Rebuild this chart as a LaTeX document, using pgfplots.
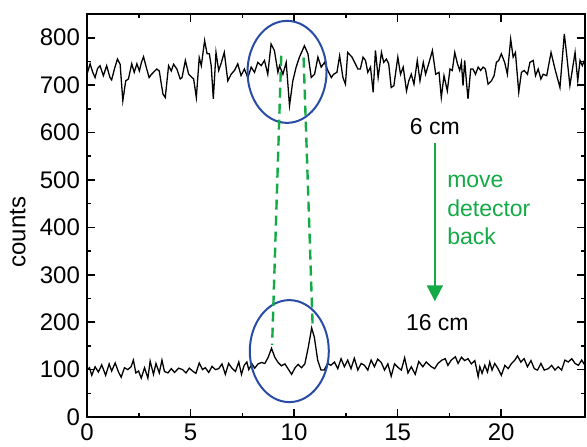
\documentclass[border=0pt]{standalone}
\usepackage{fontspec}
\setmainfont{Liberation Sans}
\usepackage{pgfplots}
\pgfplotsset{compat=1.18}
\usetikzlibrary{arrows.meta}
\definecolor{annogreen}{RGB}{20,170,70}
\definecolor{ellblue}{RGB}{40,75,165}

\begin{document}
\begin{tikzpicture}
\path[use as bounding box] (-43.5pt,-14.5pt) rectangle (250pt,208.5pt);
\begin{axis}[
  at={(0,0)}, anchor=south west,
  scale only axis, width=249pt, height=201.5pt,
  xmin=0, xmax=24.05, ymin=0, ymax=850,
  xtick={0,5,...,20}, ytick={0,100,...,800},
  minor x tick num=1, minor y tick num=1,
  tick align=inside, major tick length=4pt, minor tick length=2pt,
  axis line style={line width=1pt},
  tick style={black, line width=0.8pt},
  /pgf/number format/assume math mode=true,
  tick label style={font=\fontsize{12}{14}\selectfont},
  ylabel={counts},
  ylabel style={at={(axis description cs:-0.139,0.459)}, anchor=center, font=\fontsize{12}{14}\selectfont},
]
% 6 cm
\addplot[black, line width=0.65pt] coordinates {
(0.00,723)(0.15,745)(0.27,728)(0.39,716)(0.51,735)(0.63,741)(0.79,720)(0.95,741)
(1.11,716)(1.19,711)(1.33,735)(1.47,755)(1.60,744)(1.73,667)(1.87,709)(2.00,713)
(2.16,745)(2.28,727)(2.41,745)(2.53,730)(2.63,748)(2.73,760)(2.86,738)(3.00,716)
(3.10,722)(3.21,727)(3.37,734)(3.49,730)(3.58,705)(3.67,681)(3.78,674)(3.94,741)
(4.07,730)(4.18,744)(4.34,734)(4.50,713)(4.59,716)(4.75,752)(4.91,723)(5.07,716)
(5.15,713)(5.28,674)(5.42,758)(5.52,741)(5.68,794)(5.80,766)(5.91,766)(6.00,740)
(6.10,671)(6.23,769)(6.36,731)(6.47,745)(6.63,769)(6.80,709)(6.96,723)(7.12,731)
(7.28,745)(7.44,720)(7.60,734)(7.77,716)(7.93,738)(8.09,727)(8.25,748)(8.41,741)
(8.57,752)(8.73,723)(8.89,787)(9.05,773)(9.22,727)(9.30,741)(9.46,723)(9.62,748)
(9.78,657)(9.94,709)(10.10,738)(10.26,759)(10.50,783)(10.67,766)(10.83,716)(10.99,723)
(11.15,759)(11.31,738)(11.47,748)(11.63,731)(11.80,716)(11.91,723)(12.07,727)(12.20,762)
(12.36,716)(12.48,702)(12.59,769)(12.80,759)(12.96,745)(13.08,734)(13.20,734)(13.33,759)
(13.45,752)(13.56,727)(13.69,738)(13.82,685)(13.93,773)(14.06,716)(14.22,769)(14.33,748)
(14.46,755)(14.57,745)(14.69,695)(14.82,699)(15.01,759)(15.14,723)(15.27,738)(15.43,688)
(15.54,709)(15.66,723)(15.79,702)(15.95,752)(16.08,709)(16.24,748)(16.35,723)(16.52,748)
(16.68,773)(16.84,723)(17.00,727)(17.11,674)(17.24,720)(17.40,688)(17.53,734)(17.64,731)
(17.76,769)(17.89,745)(18.00,731)(18.08,748)(18.16,699)(18.24,752)(18.32,709)(18.40,671)
(18.53,734)(18.64,734)(18.76,723)(18.89,738)(19.01,731)(19.13,738)(19.24,734)(19.37,702)
(19.53,709)(19.66,720)(19.77,748)(19.88,752)(20.01,766)(20.17,748)(20.30,723)(20.46,797)
(20.58,759)(20.69,769)(20.85,685)(20.98,727)(21.11,731)(21.27,723)(21.39,748)(21.55,752)
(21.66,720)(21.79,734)(21.92,713)(22.03,723)(22.20,720)(22.41,769)(22.60,734)(22.84,695)
(23.05,808)(23.16,766)(23.32,699)(23.57,769)(23.70,709)(23.81,752)(23.92,741)(24.02,752)
(24.10,725)
};
% 16 cm
\addplot[black, line width=0.65pt] coordinates {
(0.00,100)(0.12,104)(0.23,88)(0.39,106)(0.55,95)(0.71,110)(0.90,88)(1.07,112)
(1.19,97)(1.36,114)(1.52,95)(1.65,84)(1.81,104)(1.97,100)(2.13,106)(2.24,120)
(2.36,93)(2.49,97)(2.62,82)(2.78,104)(2.94,82)(3.05,118)(3.21,90)(3.33,113)
(3.49,93)(3.62,120)(3.74,96)(3.91,93)(4.07,102)(4.23,94)(4.42,103)(4.62,100)
(4.78,93)(4.94,103)(5.10,97)(5.26,92)(5.42,114)(5.58,100)(5.71,104)(5.88,94)
(6.04,107)(6.20,100)(6.36,102)(6.52,112)(6.68,90)(6.84,113)(7.00,103)(7.17,96)
(7.33,116)(7.46,90)(7.59,109)(7.72,116)(7.81,100)(7.97,112)(8.10,103)(8.26,112)
(8.43,115)(8.59,113)(8.75,126)(8.91,145)(9.07,126)(9.23,115)(9.39,108)(9.56,112)
(9.72,101)(9.88,90)(10.05,104)(10.20,111)(10.36,104)(10.52,112)(10.69,148)(10.85,188)
(10.98,168)(11.14,120)(11.30,99)(11.46,99)(11.62,113)(11.78,109)(11.95,116)(12.11,102)
(12.27,123)(12.43,106)(12.59,120)(12.75,102)(12.91,124)(13.08,99)(13.24,113)(13.40,109)
(13.56,99)(13.72,120)(13.88,106)(14.04,122)(14.21,115)(14.37,99)(14.53,112)(14.69,86)
(14.85,112)(15.01,105)(15.18,99)(15.34,125)(15.50,93)(15.66,106)(15.85,90)(16.02,117)
(16.22,106)(16.38,116)(16.63,106)(16.79,102)(16.95,113)(17.14,120)(17.30,123)(17.43,109)
(17.59,120)(17.79,127)(17.92,113)(18.08,126)(18.24,119)(18.40,123)(18.56,112)(18.73,119)
(18.89,85)(18.97,106)(19.08,92)(19.21,109)(19.34,95)(19.45,116)(19.56,99)(19.69,113)
(19.85,102)(20.01,88)(20.18,109)(20.34,102)(20.50,113)(20.66,120)(20.79,129)(20.95,116)
(21.11,123)(21.27,106)(21.44,119)(21.60,102)(21.76,99)(21.92,113)(22.08,99)(22.28,102)
(22.44,109)(22.60,99)(22.76,106)(22.92,99)(23.08,120)(23.24,116)(23.41,123)(23.57,113)
(23.73,109)(23.89,120)(24.05,109)(24.10,102)
};
% annotations
\draw[ellblue, line width=1pt] (axis cs:9.66,728) ellipse [x radius=19.75pt, y radius=25.5pt];
\draw[ellblue, line width=1pt] (axis cs:9.77,139) ellipse [x radius=19.75pt, y radius=25.5pt];
\draw[annogreen, line width=1.2pt, dash pattern=on 5pt off 3pt] (axis cs:9.38,762) -- (axis cs:8.94,152);
\draw[annogreen, line width=1.2pt, dash pattern=on 5pt off 3pt] (axis cs:10.46,758) -- (axis cs:10.90,188);
\draw[annogreen, line width=1pt, -{Triangle[length=8pt,width=8pt]}] (axis cs:16.8,579) -- (axis cs:16.8,244);
\node[font=\fontsize{11.5}{13}\selectfont] at (axis cs:16.8,613) {6 cm};
\node[font=\fontsize{11.5}{13}\selectfont] at (axis cs:16.92,199) {16 cm};
\node[font=\fontsize{11.5}{14.25}\selectfont, text=annogreen, anchor=west, align=left, inner sep=0pt] at (axis cs:17.38,436) {move\\detector\\back};
\end{axis}
\end{tikzpicture}
\end{document}
